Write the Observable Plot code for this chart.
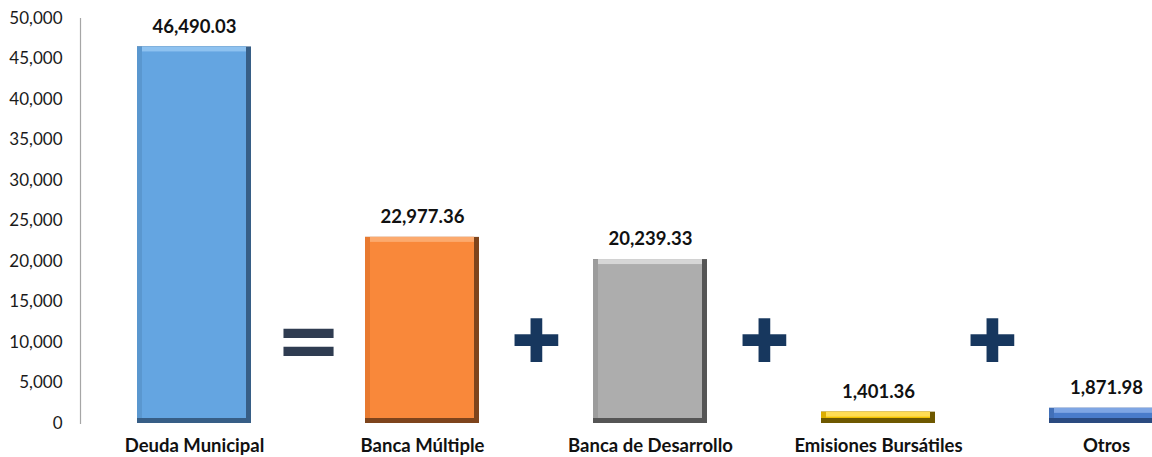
<!DOCTYPE html>
<html>
<head>
<meta charset="utf-8">
<script src="https://cdn.jsdelivr.net/npm/d3@7"></script>
<script src="https://cdn.jsdelivr.net/npm/@observablehq/plot@0.6"></script>
<style>
  html, body { margin: 0; padding: 0; background: #fff; }
  #chart svg { display: block; }
</style>
</head>
<body>
<div id="chart"></div>
<script>
const title = "(Millones de pesos)";
const categories = ["Deuda Municipal", "Banca Múltiple", "Banca de Desarrollo", "Emisiones Bursátiles", "Otros"];
const values = [46490.03, 22977.36, 20239.33, 1401.36, 1871.98];
const mainColors = ["#64A5E1", "#F9883A", "#ADADAD", "#F2C200", "#4A7CCB"];
const lightColors = ["#8EC2F0", "#FCAA6E", "#D6D6D6", "#FFDD55", "#7FA6E4"];
const sideColors = ["#5A97CF", "#E87A30", "#9C9C9C", "#DDAE00", "#4270B8"];
const darkColors = ["#375E86", "#7E441C", "#555555", "#6E5800", "#2A4A80"];
const yTicks = [0, 5000, 10000, 15000, 20000, 25000, 30000, 35000, 40000, 45000, 50000];
const signs = [
  {after: "Deuda Municipal", sign: "=", color: "#2F3C51"},
  {after: "Banca Múltiple", sign: "\u271A", color: "#17375E"},
  {after: "Banca de Desarrollo", sign: "\u271A", color: "#17375E"},
  {after: "Emisiones Bursátiles", sign: "\u271A", color: "#17375E"}
];
const signLevel = 10000;

const data = categories.map((c, i) => ({
  cat: c, value: values[i],
  main: mainColors[i], light: lightColors[i], side: sideColors[i], dark: darkColors[i]
}));

const xRange = [80, 1220];
const step = (xRange[1] - xRange[0]) / categories.length;
const fmt = d3.format(",.2f");
const font = "Lato, 'Open Sans', sans-serif";

const chart = Plot.plot({
  width: 1152,
  height: 457,
  marginTop: 18,
  marginBottom: 34,
  marginLeft: 80,
  marginRight: 0,
  style: {fontFamily: font, background: "#fff"},
  x: {domain: categories, range: xRange, paddingInner: 0.5, paddingOuter: 0.25, label: null},
  y: {domain: [0, 50000], label: null},
  marks: [
    Plot.frame({anchor: "left", stroke: "#A6A6A6", strokeWidth: 1.2}),
    Plot.axisY({ticks: yTicks, tickFormat: d3.format(","), tickSize: 0, tickPadding: 18, fontSize: 17, fill: "#1a1a1a", label: null}),
    Plot.axisX({tickSize: 0, tickPadding: 15, fontSize: 18.5, fontWeight: "bold", fill: "#111", label: null}),
    Plot.barY(data, {x: "cat", y: "value", fill: "dark"}),
    Plot.barY(data, {x: "cat", y: "value", fill: "side", insetRight: 5, insetBottom: 5}),
    Plot.barY(data, {x: "cat", y: "value", fill: "light", insetLeft: 5, insetRight: 5, insetBottom: 5}),
    Plot.barY(data, {x: "cat", y: "value", fill: "main", insetLeft: 5, insetRight: 5, insetBottom: 5, insetTop: 5}),
    Plot.text(data, {x: "cat", y: "value", text: d => fmt(d.value), dy: -20, fontSize: 18.5, fontWeight: "bold", fill: "#111", lineAnchor: "middle"}),
    Plot.text(signs, {x: "after", y: () => signLevel, text: "sign", dx: step / 2, fill: "color",
      fontSize: d => d.sign === "=" ? 80 : 60, fontWeight: "bold", fontFamily: "DejaVu Sans", lineAnchor: "middle"}),
    Plot.text([title], {frameAnchor: "top", text: d => d, dy: -32, fontSize: 26, fontWeight: "bold", fill: "#111", lineAnchor: "middle"})
  ]
});
document.getElementById("chart").appendChild(chart);
</script>
</body>
</html>
